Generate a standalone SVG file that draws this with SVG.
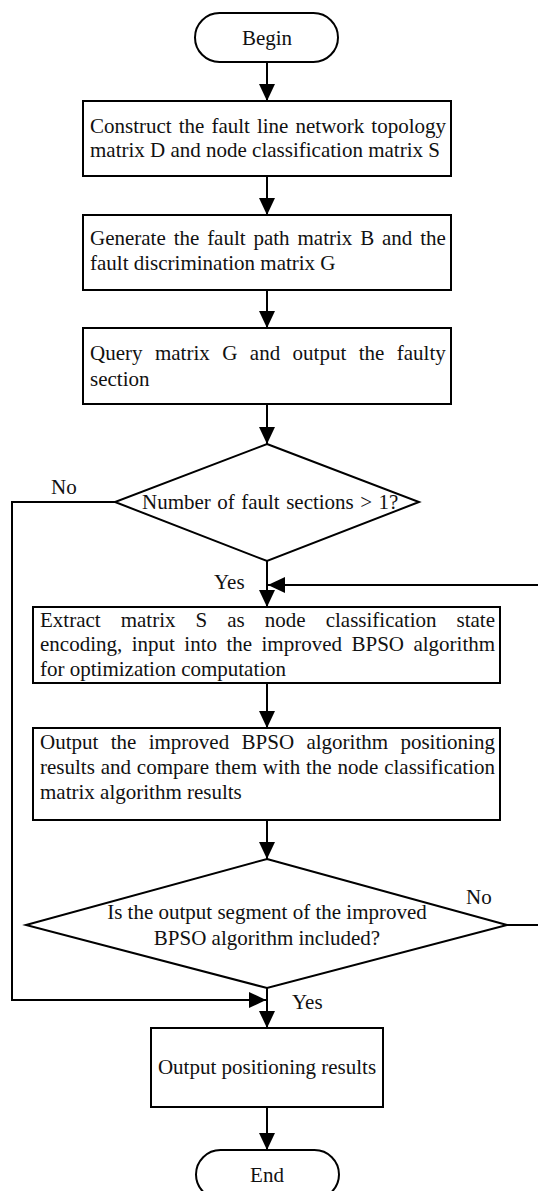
<svg xmlns="http://www.w3.org/2000/svg" width="538" height="1191" viewBox="0 0 538 1191">
<style>
.s{fill:#fff;stroke:#000;stroke-width:2}
.t{font-family:"Liberation Serif","Times New Roman",serif;font-size:21px;fill:#111}
.c{text-anchor:middle}
.e{text-anchor:end}
.ln{fill:none;stroke:#000;stroke-width:2}
</style>
<defs>
<marker id="ah" markerWidth="16" markerHeight="17" refX="17" refY="8" orient="auto" markerUnits="userSpaceOnUse">
<path d="M0,0 L17,8 L0,16 Z" fill="#000"/>
</marker>
</defs>
<rect width="538" height="1191" fill="#fff"/>
<g id="connectors">
<line class="ln" x1="267" y1="62" x2="267" y2="101" marker-end="url(#ah)"/>
<line class="ln" x1="267" y1="176" x2="267" y2="215" marker-end="url(#ah)"/>
<line class="ln" x1="267" y1="290" x2="267" y2="328" marker-end="url(#ah)"/>
<line class="ln" x1="267" y1="404" x2="267" y2="444" marker-end="url(#ah)"/>
<line class="ln" x1="267" y1="561" x2="267" y2="607" marker-end="url(#ah)"/>
<polyline class="ln" points="540,585 268,585" marker-end="url(#ah)"/>
<polyline class="ln" points="115,502 12,502 12,1000 266,1000" marker-end="url(#ah)"/>
<line class="ln" x1="267" y1="683" x2="267" y2="728" marker-end="url(#ah)"/>
<line class="ln" x1="267" y1="820" x2="267" y2="859" marker-end="url(#ah)"/>
<line class="ln" x1="507" y1="925" x2="540" y2="925"/>
<line class="ln" x1="267" y1="988" x2="267" y2="1028" marker-end="url(#ah)"/>
<line class="ln" x1="267" y1="1107" x2="267" y2="1150" marker-end="url(#ah)"/>
<text class="t" x="51" y="494">No</text>
<text class="t" x="214" y="589">Yes</text>
<text class="t" x="466" y="904">No</text>
<text class="t" x="292" y="1009">Yes</text>
</g>
<g id="begin">
<rect class="s" x="195" y="13" width="143" height="49" rx="24.5"/>
<text class="t c" x="267" y="45">Begin</text>
</g>
<g id="box1">
<rect class="s" x="83" y="101" width="368" height="75"/>
<text class="t" x="90" y="133" word-spacing="1.8">Construct the fault line network topology</text>
<text class="t" x="90" y="157">matrix D and node classification matrix S</text>
</g>
<g id="box2">
<rect class="s" x="83" y="215" width="368" height="75"/>
<text class="t" x="90" y="245" word-spacing="2.6">Generate the fault path matrix B and the</text>
<text class="t" x="90" y="270">fault discrimination matrix G</text>
</g>
<g id="box3">
<rect class="s" x="83" y="328" width="368" height="76"/>
<text class="t" x="90" y="360" word-spacing="7.2">Query matrix G and output the faulty</text>
<text class="t" x="90" y="386">section</text>
</g>
<g id="decision1">
<polygon class="s" points="267,444 419,502 267,561 115,502"/>
<text class="t" x="142" y="509" word-spacing="1.2">Number of fault sections &gt; 1?</text>
</g>
<g id="box4">
<rect class="s" x="33" y="607" width="467" height="76"/>
<text class="t" x="40" y="627" word-spacing="14.8">Extract matrix S as node classification state</text>
<text class="t" x="40" y="651" word-spacing="4.2">encoding, input into the improved BPSO algorithm</text>
<text class="t" x="40" y="676">for optimization computation</text>
</g>
<g id="box5">
<rect class="s" x="33" y="728" width="467" height="92"/>
<text class="t" x="40" y="749" word-spacing="7.1">Output the improved BPSO algorithm positioning</text>
<text class="t" x="40" y="774" word-spacing="0.6">results and compare them with the node classification</text>
<text class="t" x="40" y="799">matrix algorithm results</text>
</g>
<g id="decision2">
<polygon class="s" points="267,859 507,925 267,988 26,925"/>
<text class="t c" x="267" y="919">Is the output segment of the improved</text>
<text class="t c" x="267" y="945">BPSO algorithm included?</text>
</g>
<g id="box6">
<rect class="s" x="151" y="1028" width="232" height="79"/>
<text class="t c" x="267" y="1074">Output positioning results</text>
</g>
<g id="end">
<rect class="s" x="196" y="1150" width="143" height="49" rx="24.5"/>
<text class="t c" x="267" y="1182">End</text>
</g>
</svg>
